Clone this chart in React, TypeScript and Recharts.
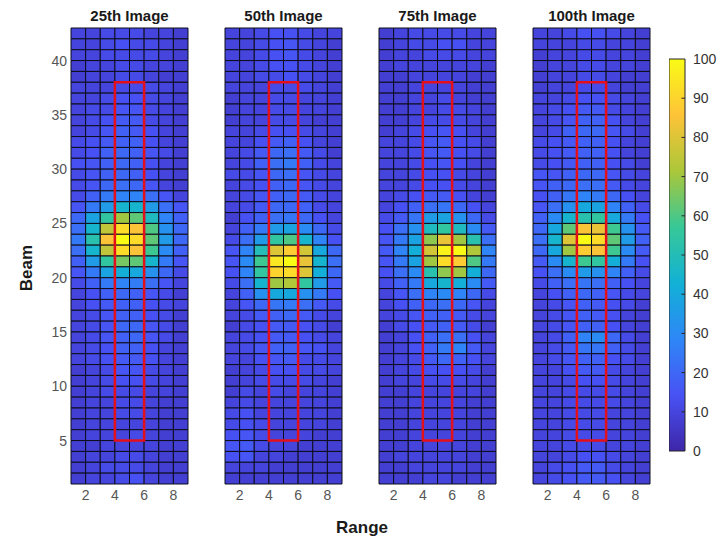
import React from "react";
import { ScatterChart, Scatter, XAxis, YAxis, ReferenceArea, ReferenceLine } from "recharts";

const titles = ["25th Image", "50th Image", "75th Image", "100th Image"];
const rangeTicks = [2, 4, 6, 8];
const beamTicks = [5, 10, 15, 20, 25, 30, 35, 40];
const colorTicks = [0, 10, 20, 30, 40, 50, 60, 70, 80, 90, 100];
const rangeDomain = [1, 9];
const beamDomain = [1, 43];
const roiRange = [4, 6];
const roiBeam = [5, 38];

// rows listed from Beam 42 (top row) down to Beam 1 (bottom row); 8 range cells each
const img25: number[][] = [
  [10, 10, 12, 12, 12, 10, 10, 8],
  [10, 10, 12, 14, 12, 12, 10, 8],
  [10, 10, 12, 12, 12, 12, 10, 8],
  [8, 10, 10, 12, 12, 10, 10, 8],
  [8, 10, 10, 12, 12, 10, 8, 8],
  [10, 10, 10, 12, 12, 12, 10, 8],
  [10, 10, 12, 14, 14, 12, 10, 8],
  [10, 12, 12, 15, 15, 12, 10, 8],
  [10, 12, 14, 16, 16, 12, 10, 8],
  [10, 12, 15, 18, 16, 14, 10, 8],
  [12, 14, 16, 18, 18, 14, 10, 8],
  [12, 14, 18, 20, 18, 15, 12, 8],
  [14, 15, 18, 20, 18, 14, 10, 8],
  [12, 15, 18, 20, 18, 14, 10, 8],
  [12, 15, 20, 22, 20, 15, 10, 8],
  [12, 18, 25, 28, 28, 22, 15, 10],
  [15, 25, 35, 45, 45, 35, 22, 15],
  [20, 38, 55, 70, 62, 48, 28, 18],
  [22, 45, 75, 92, 85, 60, 32, 20],
  [25, 52, 85, 100, 92, 62, 35, 20],
  [22, 45, 75, 92, 85, 58, 30, 18],
  [18, 35, 55, 65, 62, 45, 25, 15],
  [15, 25, 38, 42, 40, 32, 20, 12],
  [12, 18, 25, 28, 26, 22, 15, 10],
  [10, 14, 18, 20, 18, 15, 12, 8],
  [10, 14, 16, 18, 18, 14, 12, 10],
  [10, 12, 15, 18, 18, 14, 12, 8],
  [10, 12, 15, 20, 20, 15, 12, 8],
  [10, 12, 15, 18, 20, 15, 12, 8],
  [10, 12, 14, 18, 18, 14, 10, 8],
  [10, 12, 14, 16, 16, 14, 10, 8],
  [8, 10, 12, 15, 15, 12, 10, 8],
  [8, 10, 12, 14, 14, 12, 10, 8],
  [8, 10, 12, 12, 12, 10, 10, 8],
  [8, 10, 10, 12, 12, 10, 8, 8],
  [8, 10, 10, 12, 12, 10, 8, 8],
  [8, 10, 10, 10, 10, 10, 8, 8],
  [8, 10, 10, 10, 12, 10, 8, 8],
  [8, 8, 10, 10, 10, 10, 8, 8],
  [8, 10, 10, 12, 12, 10, 8, 8],
  [8, 10, 12, 12, 12, 10, 8, 8],
  [8, 10, 10, 12, 14, 10, 8, 8],
];

const img50: number[][] = [
  [10, 10, 12, 14, 14, 12, 10, 10],
  [10, 10, 12, 14, 15, 12, 10, 8],
  [10, 10, 12, 14, 15, 12, 10, 8],
  [10, 10, 12, 14, 14, 12, 10, 8],
  [10, 10, 12, 12, 14, 12, 10, 8],
  [10, 10, 10, 12, 12, 12, 10, 8],
  [8, 10, 10, 12, 12, 10, 10, 8],
  [8, 10, 10, 12, 12, 10, 10, 8],
  [8, 10, 10, 12, 12, 10, 8, 8],
  [10, 10, 12, 14, 14, 12, 10, 8],
  [10, 10, 14, 16, 18, 14, 10, 8],
  [10, 12, 16, 20, 22, 16, 12, 8],
  [10, 12, 18, 22, 25, 18, 12, 10],
  [12, 12, 15, 20, 22, 15, 12, 10],
  [10, 12, 14, 18, 20, 15, 12, 10],
  [10, 12, 15, 18, 20, 16, 12, 10],
  [10, 12, 16, 20, 20, 18, 12, 10],
  [8, 14, 18, 22, 24, 20, 14, 10],
  [10, 18, 25, 35, 38, 30, 20, 12],
  [12, 22, 35, 55, 60, 45, 28, 14],
  [15, 28, 50, 80, 88, 78, 40, 20],
  [15, 30, 58, 95, 100, 82, 45, 22],
  [14, 28, 55, 90, 92, 80, 42, 20],
  [12, 22, 45, 70, 72, 55, 35, 16],
  [10, 18, 32, 40, 40, 32, 25, 14],
  [10, 15, 20, 24, 25, 22, 16, 12],
  [10, 12, 16, 18, 20, 16, 12, 10],
  [8, 12, 14, 16, 16, 14, 12, 8],
  [10, 12, 14, 16, 16, 14, 12, 10],
  [10, 12, 15, 18, 18, 15, 14, 10],
  [10, 10, 14, 15, 16, 12, 12, 10],
  [8, 10, 12, 14, 14, 12, 12, 10],
  [8, 10, 12, 12, 12, 12, 10, 8],
  [8, 12, 10, 12, 10, 10, 10, 8],
  [10, 12, 10, 10, 10, 10, 10, 8],
  [12, 14, 10, 10, 10, 10, 10, 8],
  [12, 14, 12, 10, 10, 10, 10, 8],
  [14, 15, 12, 10, 10, 10, 8, 8],
  [15, 16, 12, 10, 10, 8, 8, 8],
  [14, 15, 10, 10, 8, 8, 8, 8],
  [10, 10, 10, 8, 8, 8, 8, 8],
  [8, 8, 8, 8, 8, 8, 8, 8],
];

const img75: number[][] = [
  [8, 10, 12, 12, 12, 12, 10, 10],
  [8, 10, 12, 12, 14, 14, 10, 10],
  [8, 10, 10, 12, 12, 12, 10, 10],
  [8, 10, 10, 10, 10, 10, 10, 8],
  [8, 8, 10, 10, 10, 10, 8, 8],
  [8, 8, 10, 10, 10, 10, 8, 8],
  [8, 8, 10, 10, 12, 10, 8, 8],
  [8, 8, 10, 10, 12, 12, 10, 8],
  [8, 8, 10, 12, 12, 12, 10, 8],
  [8, 10, 12, 14, 15, 14, 10, 8],
  [10, 10, 12, 15, 16, 14, 12, 8],
  [10, 10, 12, 15, 16, 14, 12, 8],
  [10, 10, 12, 14, 15, 14, 10, 8],
  [10, 10, 12, 14, 14, 12, 10, 8],
  [10, 10, 12, 14, 14, 12, 10, 8],
  [10, 12, 14, 16, 16, 14, 10, 8],
  [10, 14, 18, 22, 24, 20, 14, 10],
  [12, 16, 24, 35, 38, 32, 20, 12],
  [14, 22, 32, 48, 55, 48, 30, 16],
  [15, 25, 38, 68, 82, 70, 52, 22],
  [16, 28, 42, 78, 98, 100, 72, 28],
  [15, 25, 38, 70, 92, 88, 60, 25],
  [14, 22, 30, 52, 68, 70, 42, 20],
  [12, 18, 25, 40, 45, 42, 30, 16],
  [10, 15, 22, 28, 30, 28, 20, 12],
  [10, 14, 18, 20, 22, 20, 15, 10],
  [10, 12, 15, 18, 18, 16, 12, 10],
  [8, 12, 14, 16, 18, 16, 12, 8],
  [8, 10, 14, 18, 22, 22, 14, 10],
  [8, 10, 14, 18, 25, 28, 16, 10],
  [8, 10, 12, 16, 20, 18, 14, 10],
  [8, 10, 12, 14, 14, 14, 12, 8],
  [8, 10, 10, 12, 12, 12, 10, 8],
  [8, 8, 10, 10, 10, 10, 10, 8],
  [8, 8, 10, 10, 10, 10, 8, 8],
  [8, 8, 10, 10, 10, 10, 8, 8],
  [8, 8, 10, 10, 10, 10, 8, 8],
  [8, 8, 10, 10, 10, 10, 8, 8],
  [8, 8, 10, 10, 10, 10, 8, 8],
  [8, 10, 10, 10, 10, 10, 8, 8],
  [8, 8, 10, 10, 10, 10, 8, 8],
  [8, 8, 8, 10, 10, 8, 8, 8],
];

const img100: number[][] = [
  [10, 10, 12, 14, 14, 12, 10, 8],
  [10, 10, 10, 12, 12, 10, 10, 8],
  [8, 10, 10, 12, 12, 10, 10, 8],
  [8, 10, 10, 12, 12, 10, 10, 8],
  [8, 10, 10, 12, 12, 10, 8, 8],
  [8, 10, 10, 12, 12, 10, 8, 8],
  [10, 10, 12, 14, 14, 12, 10, 8],
  [10, 12, 14, 16, 16, 12, 10, 8],
  [10, 12, 15, 18, 18, 14, 10, 8],
  [10, 12, 18, 20, 20, 15, 12, 8],
  [12, 14, 16, 18, 18, 14, 10, 8],
  [12, 14, 16, 18, 18, 14, 10, 8],
  [12, 14, 16, 18, 18, 14, 12, 8],
  [15, 15, 18, 20, 20, 15, 12, 10],
  [15, 18, 20, 22, 22, 16, 12, 10],
  [14, 18, 24, 28, 25, 20, 14, 10],
  [15, 22, 32, 40, 38, 28, 18, 12],
  [18, 30, 45, 52, 55, 40, 25, 14],
  [20, 40, 62, 85, 82, 58, 32, 16],
  [22, 45, 80, 100, 92, 62, 35, 18],
  [20, 40, 70, 88, 85, 58, 30, 16],
  [16, 30, 45, 58, 55, 42, 25, 14],
  [14, 22, 30, 35, 32, 28, 18, 12],
  [12, 18, 22, 24, 22, 18, 14, 10],
  [10, 14, 18, 20, 18, 15, 12, 10],
  [10, 12, 15, 18, 16, 14, 12, 8],
  [10, 12, 15, 18, 16, 14, 10, 8],
  [10, 12, 15, 18, 18, 14, 10, 8],
  [10, 12, 18, 28, 30, 20, 12, 8],
  [10, 12, 16, 24, 24, 18, 12, 8],
  [10, 12, 15, 18, 18, 14, 12, 8],
  [10, 10, 14, 16, 16, 12, 10, 8],
  [10, 10, 12, 14, 14, 12, 10, 8],
  [10, 10, 12, 12, 12, 12, 10, 8],
  [10, 10, 12, 12, 12, 12, 10, 8],
  [10, 10, 12, 12, 12, 10, 10, 8],
  [10, 10, 12, 12, 12, 10, 10, 8],
  [10, 10, 12, 12, 12, 10, 10, 8],
  [10, 10, 12, 12, 12, 10, 10, 8],
  [10, 10, 12, 14, 14, 12, 10, 8],
  [10, 12, 14, 16, 16, 12, 10, 8],
  [10, 12, 14, 16, 16, 14, 10, 8],
];

const images = [img25, img50, img75, img100];

// parula colormap key colours
const PARULA = [
  [0.2422, 0.1504, 0.6603],
  [0.281, 0.3228, 0.9579],
  [0.1786, 0.5289, 0.9682],
  [0.0689, 0.6948, 0.8394],
  [0.2161, 0.7843, 0.5923],
  [0.672, 0.7793, 0.2227],
  [0.997, 0.7659, 0.2199],
  [0.9769, 0.9839, 0.0805],
];

function parula(v: number): string {
  const t = Math.max(0, Math.min(1, v / 100)) * (PARULA.length - 1);
  const i = Math.min(PARULA.length - 2, Math.floor(t));
  const f = t - i;
  const c = PARULA[i].map((a, k) => Math.round((a + (PARULA[i + 1][k] - a) * f) * 255));
  return `rgb(${c[0]},${c[1]},${c[2]})`;
}

const FONT = "'Liberation Sans', Arial, Helvetica, sans-serif";
const PANEL_LEFTS = [71, 225, 379, 533];
const PLOT_W = 117;
const PLOT_TOP = 28;
const PLOT_H = 456;
const AXIS_W = 40;
const XAXIS_H = 36;

function Panel({ rows, title, left, showY }: { rows: number[][]; title: string; left: number; showY: boolean }) {
  const cells: { x1: number; x2: number; y1: number; y2: number; v: number }[] = [];
  const centers: { x: number; y: number }[] = [];
  rows.forEach((row, i) => {
    const beam = rows.length - i;
    row.forEach((v, j) => {
      cells.push({ x1: j + 1, x2: j + 2, y1: beam, y2: beam + 1, v });
      centers.push({ x: j + 1.5, y: beam + 0.5 });
    });
  });
  return (
    <>
      <div
        style={{
          position: "absolute",
          left: left - 10,
          top: 7,
          width: PLOT_W + 20,
          textAlign: "center",
          fontFamily: FONT,
          fontWeight: "bold",
          fontSize: 15,
          color: "#1a1a1a",
        }}
      >
        {title}
      </div>
      <div style={{ position: "absolute", left: left - AXIS_W, top: 0 }}>
        <ScatterChart
          width={AXIS_W + PLOT_W + 5}
          height={PLOT_TOP + PLOT_H + XAXIS_H}
          margin={{ top: PLOT_TOP, right: 5, bottom: 0, left: showY ? 0 : AXIS_W }}
        >
          <XAxis
            type="number"
            dataKey="x"
            domain={rangeDomain}
            ticks={rangeTicks}
            allowDataOverflow
            height={XAXIS_H}
            axisLine={false}
            tickLine={false}
            tickSize={5}
            tickMargin={1}
            tick={{ fill: "#555", fontSize: 14, fontFamily: FONT }}
          />
          <YAxis
            type="number"
            dataKey="y"
            domain={beamDomain}
            ticks={beamTicks}
            allowDataOverflow
            hide={!showY}
            width={AXIS_W}
            axisLine={false}
            tickLine={false}
            tickSize={4}
            tickMargin={0}
            tick={{ fill: "#555", fontSize: 14, fontFamily: FONT }}
          />
          <Scatter data={centers} isAnimationActive={false} shape={() => <g />} />
          {cells.map((c, k) => (
            <ReferenceArea
              key={k}
              x1={c.x1}
              x2={c.x2}
              y1={c.y1}
              y2={c.y2}
              fill={parula(c.v)}
              fillOpacity={1}
              stroke="#0d0d1a"
              strokeWidth={1}
              ifOverflow="visible"
            />
          ))}
          <ReferenceArea
            x1={roiRange[0]}
            x2={roiRange[1]}
            y1={roiBeam[0]}
            y2={roiBeam[1]}
            fill="none"
            fillOpacity={0}
            stroke="#e3101c"
            strokeWidth={2.5}
            ifOverflow="visible"
          />
        </ScatterChart>
      </div>
    </>
  );
}

function ColorBar() {
  const barLeft = 669;
  const barW = 16;
  const top = 59;
  const h = 392;
  return (
    <div style={{ position: "absolute", left: barLeft, top: 0 }}>
      <ScatterChart width={barW + 45} height={top + h + 20} margin={{ top, right: 0, bottom: 20, left: 0 }}>
        <defs>
          <linearGradient id="parulaGrad" x1="0" y1="1" x2="0" y2="0">
            {PARULA.map((c, i) => (
              <stop
                key={i}
                offset={`${(i / (PARULA.length - 1)) * 100}%`}
                stopColor={`rgb(${Math.round(c[0] * 255)},${Math.round(c[1] * 255)},${Math.round(c[2] * 255)})`}
              />
            ))}
          </linearGradient>
        </defs>
        <XAxis type="number" dataKey="x" domain={[0, 1]} hide />
        <YAxis
          type="number"
          dataKey="y"
          orientation="right"
          domain={[0, 100]}
          ticks={colorTicks}
          width={45}
          axisLine={false}
          tickLine={false}
          tickSize={6}
          tickMargin={2}
          tick={{ fill: "#333", fontSize: 14, fontFamily: FONT, textAnchor: "start" }}
        />
        <Scatter data={[{ x: 0.5, y: 50 }]} isAnimationActive={false} shape={() => <g />} />
        <ReferenceArea x1={0} x2={1} y1={0} y2={100} fill="url(#parulaGrad)" fillOpacity={1} stroke="#262626" strokeWidth={1} />
        {colorTicks.slice(1, -1).map((t) => (
          <ReferenceLine
            key={t}
            segment={[
              { x: 0.78, y: t },
              { x: 1, y: t },
            ]}
            stroke="#262626"
            strokeWidth={1}
          />
        ))}
      </ScatterChart>
    </div>
  );
}

export default function App() {
  return (
    <div style={{ position: "absolute", left: 0, top: 0, width: 720, height: 544, background: "#fff", overflow: "hidden" }}>
      {images.map((rows, i) => (
        <Panel key={i} rows={rows} title={titles[i]} left={PANEL_LEFTS[i]} showY={i === 0} />
      ))}
      <ColorBar />
      <div
        style={{
          position: "absolute",
          left: 27 - 40,
          top: 268 - 12,
          width: 80,
          height: 24,
          lineHeight: "24px",
          textAlign: "center",
          transform: "rotate(-90deg)",
          transformOrigin: "50% 50%",
          fontFamily: FONT,
          fontWeight: "bold",
          fontSize: 17,
          color: "#1a1a1a",
        }}
      >
        Beam
      </div>
      <div
        style={{
          position: "absolute",
          left: 362 - 60,
          top: 528 - 12,
          width: 120,
          height: 24,
          lineHeight: "24px",
          textAlign: "center",
          fontFamily: FONT,
          fontWeight: "bold",
          fontSize: 17,
          color: "#1a1a1a",
        }}
      >
        Range
      </div>
    </div>
  );
}
